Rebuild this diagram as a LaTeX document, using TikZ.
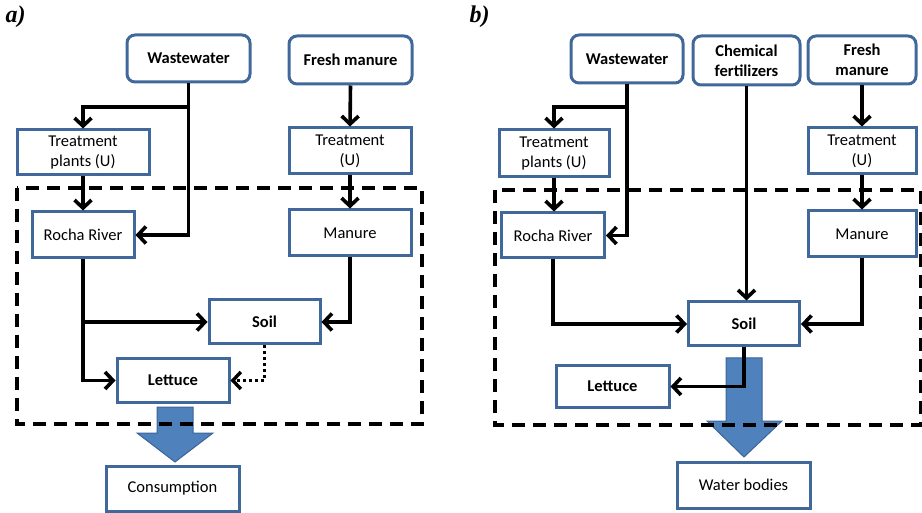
\documentclass[tikz,border=0pt]{standalone}
\usepackage{fontspec}
\setmainfont{Carlito}
\newfontfamily\labfont{Liberation Serif}
\usetikzlibrary{arrows.meta,calc}
\definecolor{boxblue}{HTML}{41689A}
\definecolor{arrfill}{HTML}{4F81BD}
\definecolor{arrdraw}{HTML}{3A6496}
\tikzset{
  box/.style={draw=boxblue, line width=3pt, fill=white, align=center, inner sep=1pt,
    font=\fontsize{16.5}{20}\selectfont},
  rbox/.style={box, rounded corners=8pt},
  bbox/.style={font=\bfseries\fontsize{16.5}{20}\selectfont},
  arr/.style={line width=3.6pt, -{Straight Barb[length=8pt,width=17pt]}},
  dotarr/.style={line width=3.4pt, dash pattern=on 3pt off 3pt, -{Straight Barb[length=8pt,width=17pt]}},
  zone/.style={line width=3.6pt, dash pattern=on 13pt off 8pt},
  blockarr/.style={fill=arrfill, draw=arrdraw, line width=1pt},
  panel/.style={font=\labfont\bfseries\itshape\fontsize{24}{26}\selectfont, anchor=north west}
}
\begin{document}
\begin{tikzpicture}[x=1pt,y=-1pt]
\useasboundingbox (0,0) rectangle (922,513);
% ---------------- panel a ----------------
\node[panel] (la) at (2,2) {a)};
\node[rbox, bbox, minimum width=123pt, minimum height=47pt] (wwA) at (188.5,58.5) {Wastewater};
\node[rbox, bbox, minimum width=123pt, minimum height=48pt] (fmA) at (350.5,60) {Fresh manure};
\node[box, minimum width=132pt, minimum height=45pt] (tpA) at (83,152.5) {Treatment\\plants (U)};
\node[box, minimum width=122pt, minimum height=46pt] (trA) at (350,151) {Treatment\\(U)};
\node[box, minimum width=102pt, minimum height=46pt] (rrA) at (83,235) {Rocha River};
\node[box, minimum width=122pt, minimum height=46pt] (maA) at (350,233) {Manure};
\node[box, bbox, minimum width=111pt, minimum height=44pt] (soA) at (264.5,322) {Soil};
\node[box, bbox, minimum width=112pt, minimum height=43pt] (leA) at (173,380.5) {Lettuce};
\node[box, minimum width=133pt, minimum height=45pt] (coA) at (172.5,488.5) {Consumption};
\coordinate (jA) at (188.5,107);
\coordinate (kA) at (83,322);
\draw[arr] (wwA.south) |- (rrA.east);
\draw[arr] (jA) -| (tpA.north);
\draw[arr] (tpA.south) -- (rrA.north);
\draw[arr] (fmA.south) -- (trA.north);
\draw[arr] (trA.south) -- (maA.north);
\draw[arr] (rrA.south) |- (leA.west);
\draw[arr] (kA) -- (soA.west);
\draw[arr] (maA.south) |- (soA.east);
\draw[dotarr] (soA.south) |- (leA.east);
\draw[blockarr] (157,407) -- (193,407) -- (193,433) -- (213,433) -- (175,462) -- (137,433) -- (157,433) -- cycle;
\draw[zone] (17,188) rectangle (422,424);
% ---------------- panel b ----------------
\node[panel] (lb) at (466,2) {b)};
\node[rbox, bbox, minimum width=112pt, minimum height=48pt] (wwB) at (627,59) {Wastewater};
\node[rbox, bbox, minimum width=107pt, minimum height=49pt] (cfB) at (746.5,60.5) {Chemical\\fertilizers};
\node[rbox, bbox, minimum width=108pt, minimum height=48pt] (fmB) at (862,60) {Fresh\\manure};
\node[box, minimum width=110pt, minimum height=47pt] (tpB) at (554,153.5) {Treatment\\plants (U)};
\node[box, minimum width=108pt, minimum height=46pt] (trB) at (862,151) {Treatment\\(U)};
\node[box, minimum width=103pt, minimum height=45pt] (rrB) at (553,235.5) {Rocha River};
\node[box, minimum width=108pt, minimum height=46pt] (maB) at (862,234) {Manure};
\node[box, bbox, minimum width=111pt, minimum height=44pt] (soB) at (744,324) {Soil};
\node[box, bbox, minimum width=113pt, minimum height=41pt] (leB) at (612.5,386.5) {Lettuce};
\node[box, minimum width=133pt, minimum height=46pt] (wbB) at (743.5,485) {Water bodies};
\coordinate (jB) at (627,107);
\draw[arr] (wwB.south) |- (rrB.east);
\draw[arr] (jB) -| (tpB.north);
\draw[arr] (tpB.south) -- (tpB.south |- rrB.north);
\draw[arr] (cfB.south) -- (cfB.south |- soB.north);
\draw[arr] (fmB.south) -- (trB.north);
\draw[arr] (trB.south) -- (maB.north);
\draw[arr] (rrB.south) |- (soB.west);
\draw[arr] (maB.south) |- (soB.east);
\draw[blockarr] (726,358) -- (762,358) -- (762,421) -- (782,421) -- (744,457) -- (707,421) -- (726,421) -- cycle;
\draw[arr] (soB.south) |- (leB.east);
\draw[zone] (495,190) rectangle (921,425);
\end{tikzpicture}
\end{document}
